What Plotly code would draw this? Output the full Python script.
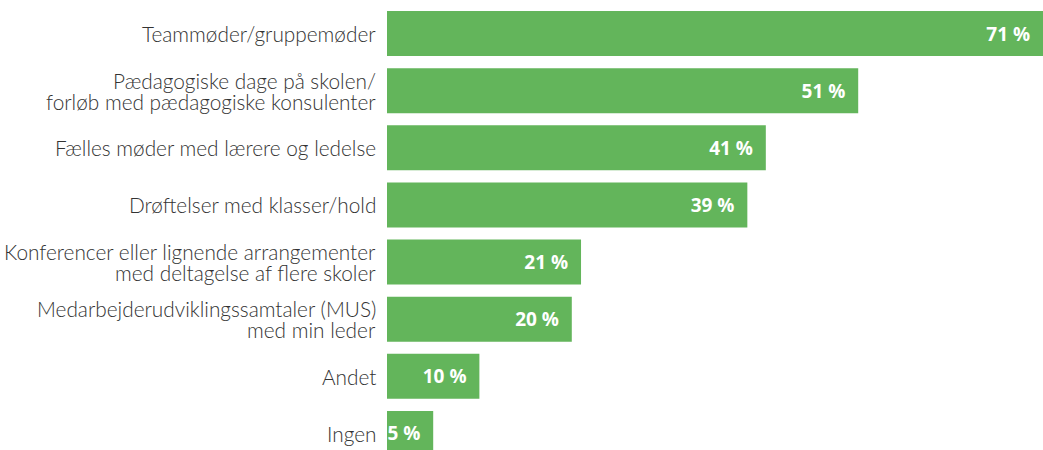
import plotly.graph_objects as go

label_lines = [
    ["Teammøder/gruppemøder"],
    ["Pædagogiske dage på skolen/", "forløb med pædagogiske konsulenter"],
    ["Fælles møder med lærere og ledelse"],
    ["Drøftelser med klasser/hold"],
    ["Konferencer eller lignende arrangementer", "med deltagelse af flere skoler"],
    ["Medarbejderudviklingssamtaler (MUS)", "med min leder"],
    ["Andet"],
    ["Ingen"],
]
categories = [" ".join(lines) for lines in label_lines]
values = [71, 51, 41, 39, 21, 20, 10, 5]
value_labels = [f"{v} %\u00a0\u00a0" for v in values]

GREEN = "#63b55b"
LABEL_FONT = dict(family="Lato", size=20.8, color="#333333", weight=300)
LINE_GAP = 21

fig = go.Figure(
    go.Bar(
        x=values,
        y=categories,
        orientation="h",
        marker=dict(color=GREEN, line=dict(width=0)),
        text=value_labels,
        textposition="inside",
        insidetextanchor="end",
        constraintext="none",
        textfont=dict(family="Open Sans", size=19, color="white", weight=700),
        hoverinfo="skip",
        cliponaxis=False,
    )
)

annotations = []
for cat, lines in zip(categories, label_lines):
    n = len(lines)
    for j, line in enumerate(lines):
        annotations.append(
            dict(
                x=0,
                xref="paper",
                y=cat,
                yref="y",
                text=line,
                showarrow=False,
                xanchor="right",
                yanchor="middle",
                xshift=-9,
                yshift=((n - 1) / 2 - j) * LINE_GAP,
                font=LABEL_FONT,
            )
        )

fig.update_layout(
    width=1043,
    height=450,
    margin=dict(l=387, r=0, t=5, b=0),
    paper_bgcolor="white",
    plot_bgcolor="white",
    bargap=0.2125,
    showlegend=False,
    font=dict(family="Open Sans", color="#333333"),
    annotations=annotations,
)
fig.update_xaxes(range=[0, 71], visible=False, fixedrange=True)
fig.update_yaxes(
    range=[7.289, -0.499],
    showgrid=False,
    zeroline=False,
    showline=False,
    showticklabels=False,
    ticks="",
    fixedrange=True,
)

fig.write_html(
    "out.html",
    config={"displayModeBar": False},
    post_script="document.body.style.margin='0';document.body.style.overflow='hidden';",
)
